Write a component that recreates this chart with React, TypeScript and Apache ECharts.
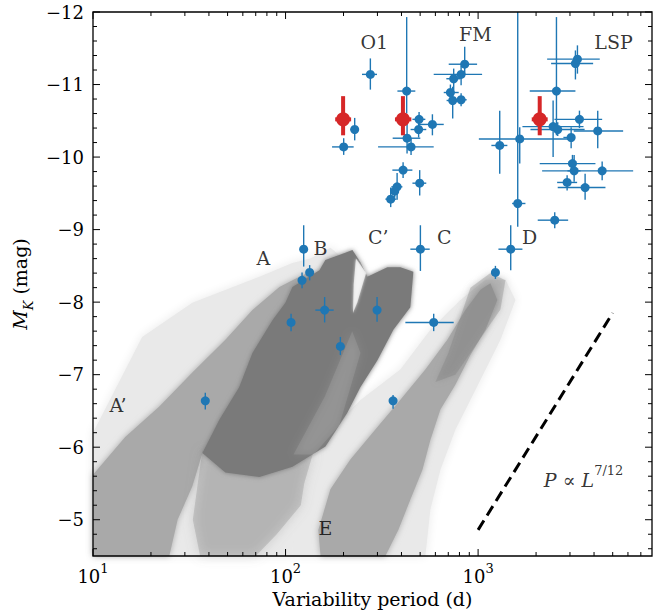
import React, { useEffect, useRef } from 'react';
import * as echarts from 'echarts';

const FONT = '"DejaVu Serif", "Liberation Serif", serif';
const X_MIN = 10;
const X_MAX = 8000;
const Y_MIN = -12;
const Y_MAX = -4.5;

// tick positions
const xMajorTicks = [10, 100, 1000];
const xMinorTicks = [20, 30, 40, 50, 60, 70, 80, 90, 200, 300, 400, 500, 600, 700, 800, 900, 2000, 3000, 4000, 5000, 6000, 7000];
const yMajorTicks = [-12, -11, -10, -9, -8, -7, -6, -5];
const yMinorTicks = [-11.8, -11.6, -11.4, -11.2, -10.8, -10.6, -10.4, -10.2, -9.8, -9.6, -9.4, -9.2, -8.8, -8.6, -8.4, -8.2,
  -7.8, -7.6, -7.4, -7.2, -6.8, -6.6, -6.4, -6.2, -5.8, -5.6, -5.4, -5.2, -4.8, -4.6];

// blue stars: period (d), M_K, and error bar ends
const bluePeriod = [275.7, 228.6, 200.4, 425.6, 493.7, 491, 427.6, 448.5, 579, 407.8, 497.3, 379.6, 368.9, 351.6,
  851.9, 816, 746.8, 718, 738, 816,
  1295, 1645, 1606, 1477, 1230, 2500,
  3280, 3202, 2552, 3360, 2452, 2591, 3042, 4181, 3090, 3153, 4408, 2899, 3595,
  124.2, 133.4, 121.8, 106.8, 159.6, 192.6, 298.7, 501.5, 588, 361.7, 38.3];
const blueMag = [-11.14, -10.38, -10.14, -10.91, -10.52, -10.38, -10.26, -10.14, -10.45, -9.82, -9.64, -9.59, -9.53, -9.42,
  -11.28, -11.14, -11.08, -10.89, -10.78, -10.79,
  -10.16, -10.25, -9.36, -8.73, -8.41, -9.13,
  -11.35, -11.29, -10.91, -10.52, -10.42, -10.38, -10.27, -10.36, -9.91, -9.81, -9.81, -9.65, -9.58,
  -8.73, -8.41, -8.30, -7.72, -7.89, -7.39, -7.89, -8.73, -7.72, -6.64, -6.64];
const bluePeriodLo = [249.5, 217.1, 174.4, 381, 456, 446, 360, 302.3, 491, 358.7, 456, 354.4, 352, 330,
  703.6, 588, 684, 663, 686, 762,
  1172, 1009, 1502, 1275, 1180, 2040,
  2283, 2394, 1854, 2491, 1699, 1870, 2773, 3138, 2089, 2911, 2150, 2573, 2591,
  119, 128, 117, 102, 142.8, 184, 289, 444.8, 419, 352, 37.3];
const bluePeriodHi = [298.5, 239.8, 225.8, 472, 532, 538, 501, 588, 663, 455.7, 538, 404.4, 386, 376.4,
  988, 1049, 809, 793, 790, 872,
  1419, 3000, 1761, 1699, 1280, 2935,
  4283, 3957, 3202, 4408, 3528, 3574, 3174, 5665, 4068, 3403, 6386, 3268, 4585,
  129, 139, 127, 111, 177.8, 202, 309, 560.6, 747, 372, 39.3];
const blueMagLo = [-11.36, -10.54, -10.26, -11.93, -10.62, -10.48, -10.55, -10.26, -10.59, -9.93, -9.82, -9.78, -9.62, -9.58,
  -11.52, -11.26, -11.22, -11.0, -10.97, -10.88,
  -10.64, -10.41, -12.4, -9.06, -8.5, -9.24,
  -11.54, -11.47, -11.93, -10.64, -10.78, -10.48, -10.41, -10.64, -10.03, -10.03, -9.94, -9.75, -9.77,
  -9.06, -8.51, -8.41, -7.84, -8.07, -7.52, -8.07, -9.06, -7.84, -6.72, -6.75];
const blueMagHi = [-10.93, -10.23, -10.03, -10.6, -10.41, -10.27, -10.05, -10.03, -10.30, -9.71, -9.47, -9.41, -9.44, -9.31,
  -11.13, -10.99, -10.92, -10.75, -10.53, -10.70,
  -9.77, -9.91, -9.04, -8.44, -8.32, -9.02,
  -11.15, -11.07, -10.3, -10.40, -10.0, -10.29, -10.12, -10.12, -9.78, -9.66, -9.68, -9.54, -9.41,
  -8.49, -8.30, -8.19, -7.60, -7.72, -7.27, -7.73, -8.43, -7.60, -6.53, -6.52];

// red points
const redPeriod = [199, 407, 2089];
const redMag = [-10.52, -10.52, -10.52];
const redPeriodLo = [181, 370, 1899];
const redPeriodHi = [219, 450, 2298];
const redMagLo = [-10.84, -10.84, -10.84];
const redMagHi = [-10.30, -10.30, -10.30];

// P ∝ L^{7/12} guide line
const guidePeriod = [1000, 5000];
const guideMag = [-4.86, -7.85];

// sequence labels
const labelText = ['O1', 'FM', 'LSP', 'A', 'B', 'C\u2019', 'C', 'D', 'A\u2019', 'E'];
const labelPeriod = [289, 968, 5046, 76.7, 152, 303, 668, 1849, 13.5, 161];
const labelMag = [-11.59, -11.69, -11.59, -8.61, -8.745, -8.9, -8.9, -8.9, -6.58, -4.89];
const relationPeriod = 3530;
const relationMag = -5.59;

// outlines of the background star clouds (period, M_K)
const haloA = [[10, -6.2], [18, -7.52], [32.8, -7.99], [73.1, -8.35], [108.6, -8.54], [134.6, -8.6], [171, -8.75],
  [200, -8.6], [200, -7.2], [160, -6.0], [125, -5.5], [110, -4.5], [10, -4.5]];
const coreA = [[10, -5.62], [14.7, -6.14], [22.1, -6.56], [32.8, -7.03], [48.7, -7.48], [67.3, -7.89], [92.9, -8.21],
  [118, -8.35], [134.6, -8.42], [150, -8.2], [100, -7.5], [37, -5.92], [32.8, -5.46], [27.5, -5.0], [24.9, -4.5], [10, -4.5]];
const haloE = [[108.6, -4.5], [112.5, -5.28], [126.8, -5.83], [171, -6.24], [245, -6.65], [394.5, -7.07], [565, -7.62],
  [809, -8.03], [1091, -8.31], [1387, -8.31], [1563, -8.03], [1306, -7.48], [968, -6.79], [762, -6.24], [637, -5.69],
  [565, -5.14], [532, -4.5]];
const coreE = [[1158, -8.26], [1259, -8.03], [1091, -7.62], [912, -7.27], [762, -6.86], [637, -6.52], [565, -6.1],
  [514, -5.69], [445, -5.28], [385, -4.86], [330, -4.5], [152, -4.5], [148, -4.86], [171, -5.42], [217, -5.83],
  [292, -6.24], [394, -6.65], [532, -7.07], [692, -7.48], [859, -7.89], [1028, -8.17]];
const darkSparse = [[37, -5.95], [73, -5.75], [108, -5.82], [140, -5.95], [125, -5.5], [120, -5.2], [90, -4.8],
  [70, -4.5], [36, -4.5], [33, -5.0], [35, -5.5]];
const darkCore = [[37, -5.92], [45.3, -6.38], [57.5, -6.83], [67.3, -7.3], [85.5, -7.75], [99.8, -7.99], [108.6, -8.21],
  [150, -8.44], [161, -8.58], [204.5, -8.68], [222.4, -8.72], [244.8, -8.55], [266.2, -8.35], [338, -8.48], [394.5, -8.48],
  [461, -8.42], [444.6, -7.93], [363, -7.62], [300, -7.2], [245, -6.83], [209, -6.47], [161.1, -6.01], [108.6, -5.73],
  [73.1, -5.59], [48.7, -5.65]];
const darkGap = [[232, -8.6], [262, -8.4], [236, -8.0], [224, -7.85], [226, -8.25]];
const darkSpeckle = [[222, -7.6], [245, -7.3], [190, -6.3], [140, -5.9], [110, -5.9], [160, -6.7]];
const darkOverE = [[912, -8.2], [1158, -8.4], [1387, -8.3], [1306, -7.9], [1091, -7.6], [762, -7.0], [600, -6.9], [700, -7.3]];

const cloudShapes = [haloA, haloE, coreA, coreE, darkSparse, darkCore, darkGap, darkSpeckle, darkOverE];
const cloudStyles = [
  { fill: '#e9e9e9', opacity: 1, blur: 10 },
  { fill: '#e9e9e9', opacity: 1, blur: 10 },
  { fill: '#a9a9a9', opacity: 1, blur: 6 },
  { fill: '#a9a9a9', opacity: 1, blur: 6 },
  { fill: '#7b7b7b', opacity: 0.28, blur: 12 },
  { fill: '#7a7a7a', opacity: 1, blur: 5 },
  { fill: '#ffffff', opacity: 0.7, blur: 3 },
  { fill: '#ffffff', opacity: 0.1, blur: 8 },
  { fill: '#7b7b7b', opacity: 0.3, blur: 6 },
];

const BLUE = '#1f77b4';
const RED = '#d62728';

function App() {
  const ref = useRef<HTMLDivElement>(null);

  useEffect(() => {
    const chart = echarts.init(ref.current!, null, { renderer: 'svg' });

    const cloudData = cloudShapes.map((s, i) => [s[0][0], s[0][1], i]);
    const tickData = [
      ...xMajorTicks.map((v) => [v, Y_MAX, 0]),
      ...xMinorTicks.map((v) => [v, Y_MAX, 1]),
      ...yMajorTicks.map((v) => [X_MIN, v, 2]),
      ...yMinorTicks.map((v) => [X_MIN, v, 3]),
    ];
    const blueData = bluePeriod.map((p, i) => [p, blueMag[i], bluePeriodLo[i], bluePeriodHi[i], blueMagLo[i], blueMagHi[i]]);
    const redData = redPeriod.map((p, i) => [p, redMag[i], redPeriodLo[i], redPeriodHi[i], redMagLo[i], redMagHi[i]]);

    const errRender = (color: string, w: number) => (params: any, api: any) => {
      const cs = params.coordSys;
      const p = api.value(0), m = api.value(1);
      const a = api.coord([api.value(2), m]);
      const b = api.coord([api.value(3), m]);
      const c = api.coord([p, api.value(4)]);
      const d = api.coord([p, api.value(5)]);
      const top = Math.max(c[1], cs.y);
      return {
        type: 'group',
        children: [
          { type: 'line', shape: { x1: a[0], y1: a[1], x2: b[0], y2: b[1] }, style: { stroke: color, lineWidth: w } },
          { type: 'line', shape: { x1: c[0], y1: top, x2: d[0], y2: d[1] }, style: { stroke: color, lineWidth: w } },
        ],
      };
    };

    const option: any = {
      animation: false,
      backgroundColor: '#ffffff',
      grid: { left: 93, top: 12, width: 559, height: 544, show: true, borderColor: '#000', borderWidth: 1.3, backgroundColor: 'transparent', z: 10 },
      xAxis: {
        type: 'log', logBase: 10, min: X_MIN, max: X_MAX,
        axisLine: { show: false }, axisTick: { show: false }, splitLine: { show: false },
        axisLabel: {
          margin: 6,
          formatter: (v: number) => {
            const e = Math.log10(v);
            const r = Math.round(e);
            if (Math.abs(e - r) > 1e-6) return '';
            return `{b|10}{s|${r}}`;
          },
          rich: {
            b: { fontSize: 18, fontFamily: FONT, color: '#000', verticalAlign: 'bottom', padding: [5, 0, 0, 0] },
            s: { fontSize: 13, fontFamily: FONT, color: '#000', verticalAlign: 'top' },
          },
          showMaxLabel: false,
        },
        name: 'Variability period (d)', nameLocation: 'middle', nameGap: 33,
        nameTextStyle: { fontSize: 19, fontFamily: FONT, color: '#000' },
      },
      yAxis: {
        type: 'value', inverse: true, min: Y_MIN, max: Y_MAX, interval: 1,
        axisLine: { show: false }, axisTick: { show: false }, splitLine: { show: false },
        axisLabel: {
          margin: 9, fontSize: 18, fontFamily: FONT, color: '#000', showMaxLabel: false,
          formatter: (v: number) => (Math.abs(v - Math.round(v)) > 1e-9 ? '' : (v < 0 ? '\u2212' + Math.abs(v) : String(v))),
        },
        name: '{i|M}{sub|K}{n| (mag)}', nameLocation: 'middle', nameGap: 52, nameRotate: 90,
        nameTextStyle: {
          rich: {
            i: { fontSize: 19, fontFamily: FONT, fontStyle: 'italic', color: '#000', verticalAlign: 'top', padding: [0, 0, 6, 0] },
            sub: { fontSize: 13, fontFamily: FONT, fontStyle: 'italic', color: '#000', verticalAlign: 'bottom' },
            n: { fontSize: 19, fontFamily: FONT, color: '#000', verticalAlign: 'top', padding: [0, 0, 6, 0] },
          },
        },
      },
      series: [
        {
          type: 'custom', name: 'clouds', data: cloudData, silent: true, z: 1,
          renderItem: (params: any, api: any) => {
            const idx = api.value(2);
            const pts = cloudShapes[idx].map((q) => api.coord(q));
            const st = cloudStyles[idx];
            return {
              type: 'polygon', shape: { points: pts },
              style: { fill: st.fill, opacity: st.opacity, shadowBlur: st.blur, shadowColor: st.fill },
            };
          },
        },
        {
          type: 'line', name: 'guide', data: guidePeriod.map((p, i) => [p, guideMag[i]]), showSymbol: false, symbol: 'none', z: 2,
          lineStyle: { color: '#000', width: 3, type: [11, 6] },
        },
        { type: 'custom', name: 'blueErr', data: blueData, renderItem: errRender(BLUE, 1.4), z: 3 },
        { type: 'scatter', name: 'blue', data: blueData.map((d) => [d[0], d[1]]), symbolSize: 9, itemStyle: { color: BLUE, opacity: 1 }, z: 4 },
        { type: 'custom', name: 'redErr', data: redData, renderItem: errRender(RED, 4), z: 5 },
        { type: 'scatter', name: 'red', data: redData.map((d) => [d[0], d[1]]), symbolSize: 14, itemStyle: { color: RED, opacity: 1 }, z: 6 },
        {
          type: 'scatter', name: 'labels', symbolSize: 1, itemStyle: { color: 'transparent' }, z: 7, silent: true,
          data: [
            ...labelText.map((t, i) => ({ value: [labelPeriod[i], labelMag[i]], name: t, label: { formatter: t } })),
            {
              value: [relationPeriod, relationMag], name: 'rel',
              label: { formatter: '{i|P} {n|\u221d} {i|L}{s|7/12}' },
            },
          ],
          label: {
            show: true, position: 'inside', fontSize: 19, fontFamily: FONT, color: '#000',
            rich: {
              i: { fontSize: 19, fontFamily: FONT, fontStyle: 'italic', color: '#000', verticalAlign: 'bottom', padding: [6, 0, 0, 0] },
              n: { fontSize: 19, fontFamily: FONT, color: '#000', verticalAlign: 'bottom', padding: [6, 0, 0, 0] },
              s: { fontSize: 13, fontFamily: FONT, color: '#000', verticalAlign: 'top' },
            },
          },
        },
        {
          type: 'custom', name: 'ticks', data: tickData, z: 8, silent: true,
          renderItem: (params: any, api: any) => {
            const x = api.value(0), y = api.value(1), kind = api.value(2);
            const len = kind % 2 === 0 ? 7 : 4;
            const st = { stroke: '#000', lineWidth: 1 };
            if (kind < 2) {
              const b = api.coord([x, Y_MAX]);
              const t = api.coord([x, Y_MIN]);
              return {
                type: 'group', children: [
                  { type: 'line', shape: { x1: b[0], y1: b[1], x2: b[0], y2: b[1] - len }, style: st },
                  { type: 'line', shape: { x1: t[0], y1: t[1], x2: t[0], y2: t[1] + len }, style: st },
                ],
              };
            }
            const l = api.coord([X_MIN, y]);
            const r = api.coord([X_MAX, y]);
            return {
              type: 'group', children: [
                { type: 'line', shape: { x1: l[0], y1: l[1], x2: l[0] + len, y2: l[1] }, style: st },
                { type: 'line', shape: { x1: r[0], y1: r[1], x2: r[0] - len, y2: r[1] }, style: st },
              ],
            };
          },
        },
      ],
    };

    chart.setOption(option);
    return () => chart.dispose();
  }, []);

  return <div ref={ref} style={{ position: 'absolute', left: 0, top: 0, width: 665, height: 615 }} />;
}

export default App;
